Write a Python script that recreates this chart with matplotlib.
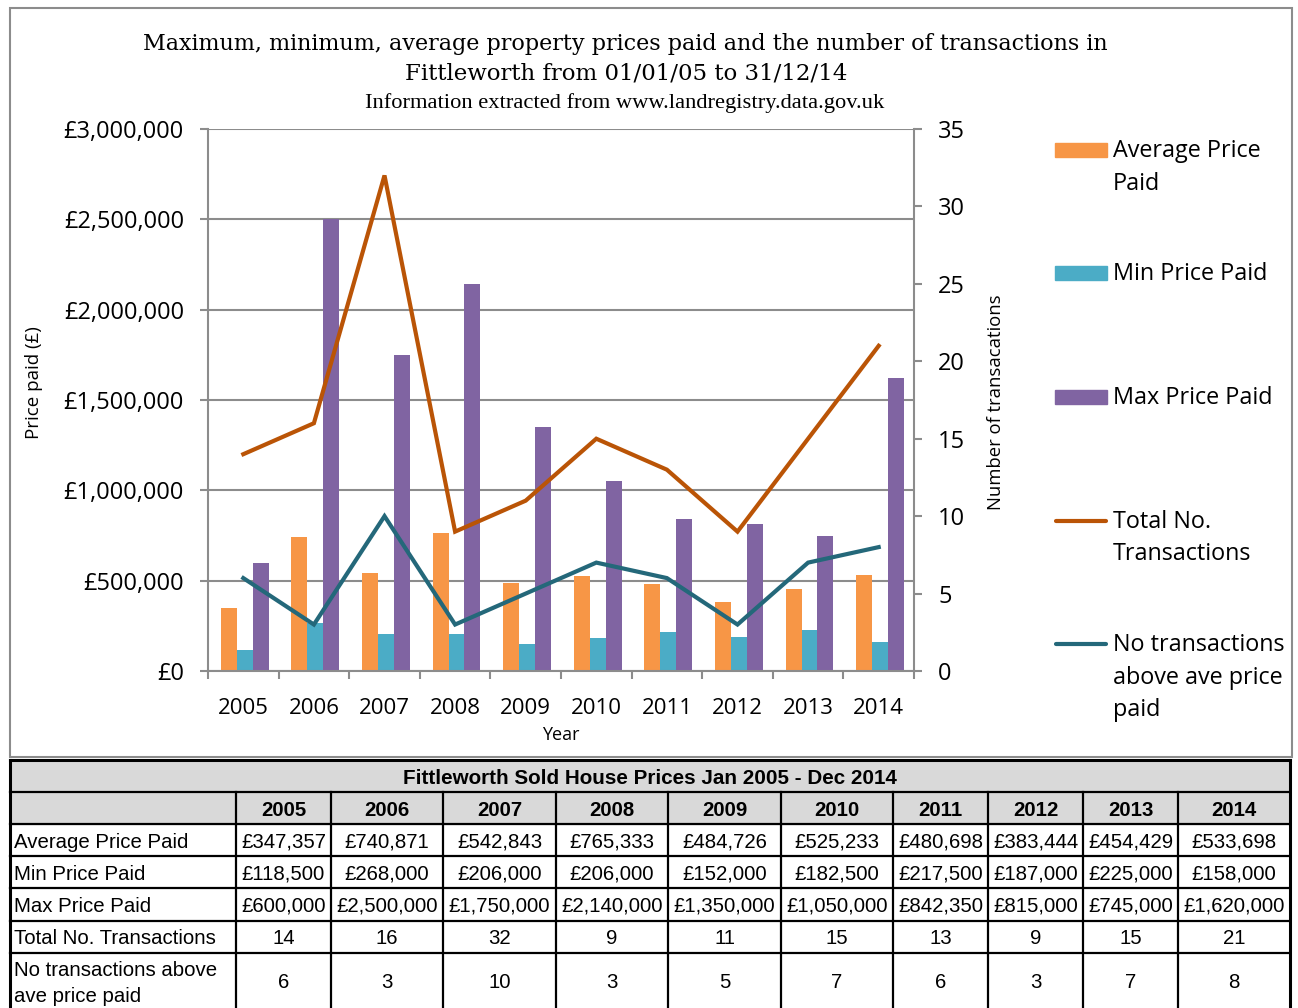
import numpy as np
import matplotlib
matplotlib.use("Agg")
import matplotlib.pyplot as plt
from matplotlib.patches import Rectangle
from matplotlib.lines import Line2D
from matplotlib.ticker import FuncFormatter, MultipleLocator

years = ["2005", "2006", "2007", "2008", "2009", "2010", "2011", "2012", "2013", "2014"]
avg_price = [347357, 740871, 542843, 765333, 484726, 525233, 480698, 383444, 454429, 533698]
min_price = [118500, 268000, 206000, 206000, 152000, 182500, 217500, 187000, 225000, 158000]
max_price = [600000, 2500000, 1750000, 2140000, 1350000, 1050000, 842350, 815000, 745000, 1620000]
total_trans = [14, 16, 32, 9, 11, 15, 13, 9, 15, 21]
above_avg = [6, 3, 10, 3, 5, 7, 6, 3, 7, 8]

C_AVG = "#F79646"
C_MIN = "#4BACC6"
C_MAX = "#8064A2"
C_TOT = "#BA5406"
C_ABV = "#24687A"
GRID = "#8C8C8C"

W, H = 1298, 1008
fig = plt.figure(figsize=(W / 100, H / 100), dpi=100)

def fx(px):
    return px / W

def fy(py):
    return 1 - py / H

SANS = "Open Sans"
SERIF = "DejaVu Serif"
TICKLEN = 5.8
TICKPAD = 11.5

# outer chart border
fig.add_artist(Rectangle((fx(10), fy(757)), fx(1292) - fx(10), fy(8) - fy(757),
                         transform=fig.transFigure, fill=False, edgecolor="#8C8C8C", lw=1.5))

ax = fig.add_axes([fx(208), fy(671), fx(914) - fx(208), fy(129) - fy(671)])
x = np.arange(len(years))
bw = 0.225
ax.bar(x - 0.205, avg_price, bw, color=C_AVG, zorder=2)
ax.bar(x + 0.02, min_price, bw, color=C_MIN, zorder=2)
ax.bar(x + 0.245, max_price, bw, color=C_MAX, zorder=2)
ax.set_xlim(-0.5, len(years) - 0.5)
ax.set_ylim(0, 3000000)
ax.yaxis.set_major_locator(MultipleLocator(500000))
ax.yaxis.set_major_formatter(FuncFormatter(lambda v, p: "£0" if v == 0 else "£{:,.0f}".format(v)))
ax.grid(axis="y", color=GRID, lw=1.5, zorder=0)
ax.set_axisbelow(True)
ax.set_xticks(x)
ax.set_xticklabels(years)
ax.set_xticks(np.arange(-0.5, len(years)), minor=True)
ax.tick_params(axis="x", which="major", length=0, pad=19.5, labelsize=16)
ax.tick_params(axis="x", which="minor", length=TICKLEN, width=1.5, color=GRID, direction="out")
ax.tick_params(axis="y", length=TICKLEN, width=1.5, color=GRID, labelsize=17, pad=TICKPAD)
for lab in ax.get_xticklabels() + ax.get_yticklabels():
    lab.set_family(SANS)
for s in ["top", "right"]:
    ax.spines[s].set_visible(False)
for s in ["left", "bottom"]:
    ax.spines[s].set_color(GRID)
    ax.spines[s].set_linewidth(1.5)
ax.set_xlabel("Year", family=SANS, fontsize=13, labelpad=5)

ax2 = ax.twinx()
ax2.plot(x, total_trans, color=C_TOT, lw=3.0, solid_joinstyle="miter")
ax2.plot(x, above_avg, color=C_ABV, lw=3.0, solid_joinstyle="miter")
ax2.set_ylim(0, 35)
ax2.yaxis.set_major_locator(MultipleLocator(5))
ax2.tick_params(axis="y", length=TICKLEN, width=1.5, color=GRID, labelsize=17, pad=TICKPAD)
for lab in ax2.get_yticklabels():
    lab.set_family(SANS)
for s in ["top", "left", "bottom"]:
    ax2.spines[s].set_visible(False)
ax2.spines["right"].set_color(GRID)
ax2.spines["right"].set_linewidth(1.5)

fig.text(fx(34), fy(383), "Price paid (£)", family=SANS, fontsize=13.5, rotation=90,
         ha="center", va="center")
fig.text(fx(996), fy(402), "Number of transacations", family=SANS, fontsize=13.3, rotation=90,
         ha="center", va="center")

# titles
fig.text(fx(625), fy(44), "Maximum, minimum, average property prices paid and the number of transactions in",
         family=SERIF, fontsize=16, ha="center", va="center")
fig.text(fx(626), fy(74), "Fittleworth from 01/01/05 to 31/12/14",
         family=SERIF, fontsize=16.5, ha="center", va="center")
fig.text(fx(625), fy(103), "Information extracted from www.landregistry.data.gov.uk",
         family="Liberation Serif", fontsize=16.2, ha="center", va="center")

# legend
leg_items = [
    ("patch", C_AVG, ["Average Price", "Paid"], 150),
    ("patch", C_MIN, ["Min Price Paid"], 273),
    ("patch", C_MAX, ["Max Price Paid"], 397),
    ("line", C_TOT, ["Total No.", "Transactions"], 521),
    ("line", C_ABV, ["No transactions", "above ave price", "paid"], 644),
]
for kind, col, lines, y0 in leg_items:
    if kind == "patch":
        fig.add_artist(Rectangle((fx(1055), fy(y0 + 7)), fx(1107) - fx(1055), fy(y0 - 7) - fy(y0 + 7),
                                 transform=fig.transFigure, color=col))
    else:
        fig.add_artist(Line2D([fx(1056), fx(1106)], [fy(y0), fy(y0)], transform=fig.transFigure,
                              color=col, lw=3.0, solid_capstyle="round"))
    for i, t in enumerate(lines):
        fig.text(fx(1113), fy(y0 + 1 + 32.5 * i), t, family=SANS, fontsize=16.8, ha="left", va="center")

# table
tax = fig.add_axes([0, 0, 1, 1])
tax.set_xlim(0, W)
tax.set_ylim(H, 0)
tax.axis("off")
col_edges = [10, 236, 331, 443, 556, 668, 781, 893, 988, 1083, 1178, 1290]
row_edges = [760, 792, 824, 856, 888, 921, 953, 1008]
TF = "Liberation Sans"
FS = 14.7
tax.add_patch(Rectangle((10, 760), 1280, 64, color="#D9D9D9", zorder=0))
for k, yy in enumerate(row_edges[:-1]):
    tax.plot([10, 1290], [yy, yy], color="black", lw=2.2 if k == 0 else 1.6)
for i, xx in enumerate(col_edges):
    y_start = 760 if i in (0, len(col_edges) - 1) else 792
    tax.plot([xx, xx], [y_start, 1008], color="black", lw=2.2 if i in (0, len(col_edges) - 1) else 1.6)
tax.text((10 + 1290) / 2, 778, "Fittleworth Sold House Prices Jan 2005 - Dec 2014",
         family=TF, fontsize=14.9, weight="bold", ha="center", va="center")
for j, yr in enumerate(years):
    tax.text((col_edges[j + 1] + col_edges[j + 2]) / 2, 810, yr, family=TF, fontsize=FS,
             weight="bold", ha="center", va="center")

def money(v):
    return "£{:,}".format(v)

rows = [
    ("Average Price Paid", [money(v) for v in avg_price]),
    ("Min Price Paid", [money(v) for v in min_price]),
    ("Max Price Paid", [money(v) for v in max_price]),
    ("Total No. Transactions", [str(v) for v in total_trans]),
    ("No transactions above\nave price paid", [str(v) for v in above_avg]),
]
for r, (lab, vals) in enumerate(rows):
    yc = (row_edges[r + 2] + row_edges[r + 3]) / 2 + 2
    if r == 4:
        tax.text(14, 970, "No transactions above", family=TF, fontsize=FS, ha="left", va="center")
        tax.text(14, 997, "ave price paid", family=TF, fontsize=FS, ha="left", va="center")
        yc = 982
    else:
        tax.text(14, yc, lab, family=TF, fontsize=FS, ha="left", va="center")
    for j, v in enumerate(vals):
        tax.text((col_edges[j + 1] + col_edges[j + 2]) / 2, yc, v, family=TF, fontsize=FS,
                 ha="center", va="center")

fig.savefig("out.png", dpi=100)
